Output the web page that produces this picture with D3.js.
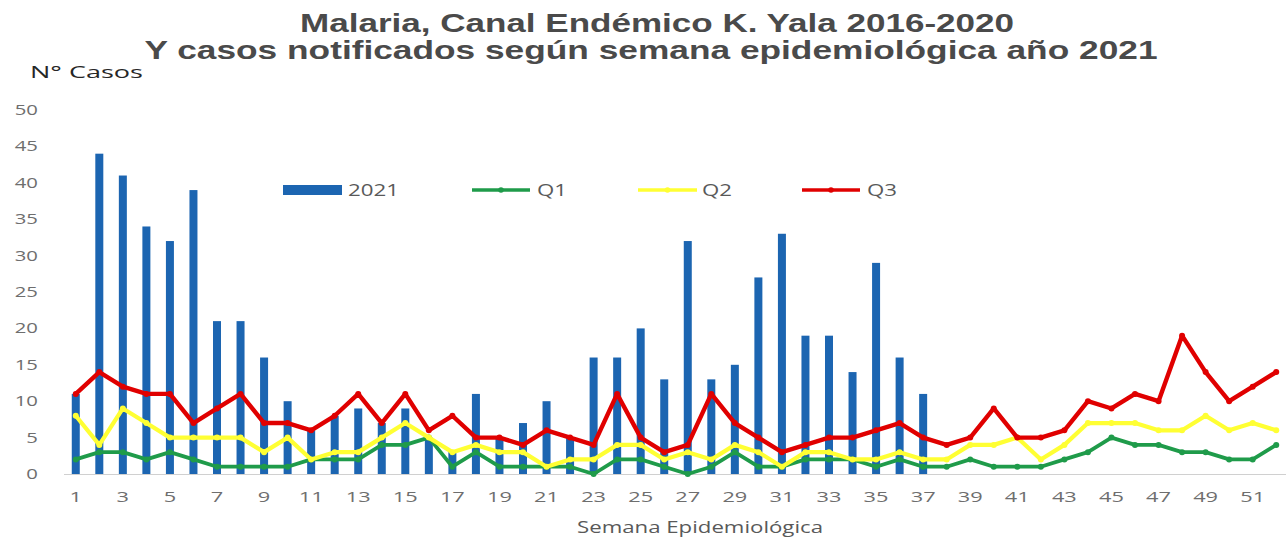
<!DOCTYPE html>
<html><head><meta charset="utf-8">
<script src="https://cdn.jsdelivr.net/npm/d3@7"></script>
<style>body{margin:0;background:#fff}svg{display:block}</style>
</head><body>
<script>
const weeks = d3.range(1, 53);
const cases2021 = [11,44,41,34,32,39,21,21,16,10,6,8,9,7,9,5,3,11,5,7,10,5,16,16,20,13,32,13,15,27,33,19,19,14,29,16,11];
const q1 = [2,3,3,2,3,2,1,1,1,1, 2,2,2,4,4,5,1,3,1,1, 1,1,0,2,2,1,0,1,3,1, 1,2,2,2,1,2,1,1,2,1, 1,1,2,3,5,4,4,3,3,2,2,4];
const q2 = [8,4,9,7,5,5,5,5,3,5, 2,3,3,5,7,5,3,4,3,3, 1,2,2,4,4,2,3,2,4,3, 1,3,3,2,2,3,2,2,4,4, 5,2,4,7,7,7,6,6,8,6,7,6];
const q3 = [11,14,12,11,11,7,9,11,7,7, 6,8,11,7,11,6,8,5,5,4, 6,5,4,11,5,3,4,11,7,5, 3,4,5,5,6,7,5,4,5,9, 5,5,6,10,9,11,10,19,14,10,12,14];
const yTicks = [0,5,10,15,20,25,30,35,40,45,50];
const xTickLabels = weeks.filter(w => w % 2 === 1);
const titleLines = ["Malaria, Canal Endémico K. Yala 2016-2020", "Y casos notificados según semana epidemiológica  año 2021"];
const series = [
  {name: "Q1", values: q1, color: "#1f9b4a", width: 3.8},
  {name: "Q2", values: q2, color: "#ffff33", width: 4.2},
  {name: "Q3", values: q3, color: "#e00000", width: 4.4}
];
const barColor = "#1c65b1";

const W = 1287, H = 537;
const svg = d3.select("body").append("svg").attr("width", W).attr("height", H);
svg.append("rect").attr("width", W).attr("height", H).attr("fill", "#fff");

function stretch(sel, f) {
  sel.each(function() {
    const w = this.getComputedTextLength();
    this.setAttribute("textLength", w * f);
    this.setAttribute("lengthAdjust", "spacingAndGlyphs");
  });
}
function fitTo(sel, target) {
  sel.attr("textLength", target).attr("lengthAdjust", "spacingAndGlyphs");
}

const x = d3.scaleBand().domain(weeks).range([64, 1288]);
const y = d3.scaleLinear().domain([0, 50]).range([474, 110]);

// Titles
svg.append("text").attr("x", 657).attr("y", 32).attr("text-anchor", "middle")
  .attr("font-family", "Liberation Sans, Arial, sans-serif").attr("font-weight", "bold")
  .attr("font-size", 26).attr("fill", "#4a4a4a").text(titleLines[0]).call(fitTo, 714);
svg.append("text").attr("x", 651).attr("y", 59).attr("text-anchor", "middle")
  .attr("font-family", "Liberation Sans, Arial, sans-serif").attr("font-weight", "bold")
  .attr("font-size", 26).attr("fill", "#4a4a4a").text(titleLines[1]).call(fitTo, 1013);

svg.append("text").attr("x", 30).attr("y", 78)
  .attr("font-family", "Open Sans, sans-serif").attr("font-size", 17).attr("fill", "#262626")
  .text("N° Casos").call(fitTo, 113);

// Y tick labels
svg.append("g").selectAll("text").data(yTicks).join("text")
  .attr("x", 38).attr("y", d => y(d)).attr("dy", "0.35em").attr("text-anchor", "end")
  .attr("font-family", "Open Sans, sans-serif").attr("font-size", 14).attr("fill", "#6e6e6e")
  .text(d => d).call(stretch, 1.45);

// Bars
svg.append("g").selectAll("rect").data(cases2021).join("rect")
  .attr("x", (d, i) => x(weeks[i]) + x.bandwidth() / 2 - 4)
  .attr("width", 8)
  .attr("y", d => y(d)).attr("height", d => y(0) - y(d))
  .attr("fill", barColor);

// Axis line
svg.append("line").attr("x1", 64).attr("x2", 1286).attr("y1", y(0) + 0.5).attr("y2", y(0) + 0.5)
  .attr("stroke", "#d0d0d0").attr("stroke-width", 1);

// X tick labels
svg.append("g").selectAll("text").data(xTickLabels).join("text")
  .attr("x", d => x(d) + x.bandwidth() / 2).attr("y", 502).attr("text-anchor", "middle")
  .attr("font-family", "Open Sans, sans-serif").attr("font-size", 15).attr("fill", "#6e6e6e")
  .text(d => d).call(stretch, 1.45);

svg.append("text").attr("x", 700).attr("y", 533).attr("text-anchor", "middle")
  .attr("font-family", "Open Sans, sans-serif").attr("font-size", 17).attr("fill", "#595959")
  .text("Semana Epidemiológica").call(fitTo, 246);

// Lines
const line = d3.line().x((d, i) => x(weeks[i]) + x.bandwidth() / 2).y(d => y(d));
series.forEach(s => {
  const g = svg.append("g");
  g.append("path").datum(s.values).attr("d", line).attr("fill", "none")
    .attr("stroke", s.color).attr("stroke-width", s.width).attr("stroke-linejoin", "round");
  g.selectAll("circle").data(s.values).join("circle")
    .attr("cx", (d, i) => x(weeks[i]) + x.bandwidth() / 2).attr("cy", d => y(d))
    .attr("r", 3).attr("fill", s.color);
});

// Legend
const lg = svg.append("g").attr("font-family", "Open Sans, sans-serif").attr("font-size", 16).attr("fill", "#595959");
lg.append("rect").attr("x", 283).attr("y", 185).attr("width", 59).attr("height", 10).attr("fill", barColor);
lg.append("text").attr("x", 348).attr("y", 196).text("2021").call(fitTo, 51);
const legendItems = [{s: series[0], x0: 472, x1: 530, tx: 537}, {s: series[1], x0: 638, x1: 697, tx: 702}, {s: series[2], x0: 802, x1: 860, tx: 867}];
legendItems.forEach(it => {
  lg.append("line").attr("x1", it.x0).attr("x2", it.x1).attr("y1", 190).attr("y2", 190)
    .attr("stroke", it.s.color).attr("stroke-width", 3.5);
  lg.append("circle").attr("cx", (it.x0 + it.x1) / 2).attr("cy", 190).attr("r", 2.8).attr("fill", it.s.color);
  lg.append("text").attr("x", it.tx).attr("y", 196).text(it.s.name).call(fitTo, 30);
});
</script>
</body></html>
